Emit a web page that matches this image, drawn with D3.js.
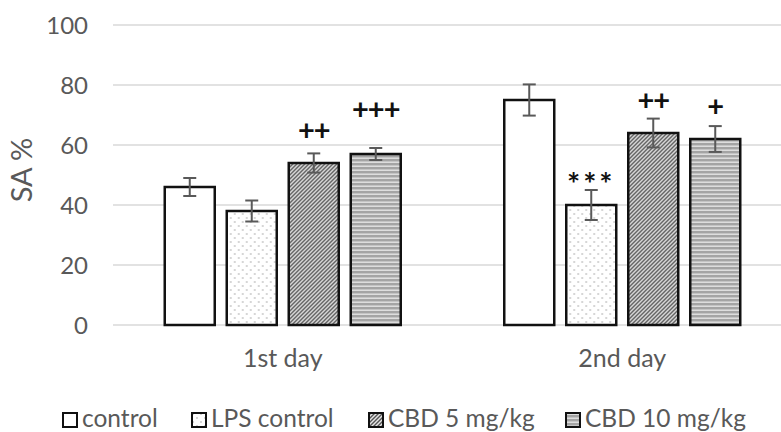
<!DOCTYPE html>
<html>
<head>
<meta charset="utf-8">
<script src="https://cdn.jsdelivr.net/npm/d3@7"></script>
<style>
  html, body { margin: 0; padding: 0; background: #fff; }
  svg { display: block; font-family: Lato, "Noto Sans", sans-serif; }
</style>
</head>
<body>
<svg id="chart" width="781" height="432"></svg>
<script>
// ---- data ----
const categories = ["1st day", "2nd day"];
const seriesNames = ["control", "LPS control", "CBD 5 mg/kg", "CBD 10 mg/kg"];
const controlValues = [46, 75];
const controlErrors = [3, 5.2];
const lpsValues = [38, 40];
const lpsErrors = [3.5, 5];
const cbd5Values = [54, 64];
const cbd5Errors = [3.2, 4.8];
const cbd10Values = [57, 62];
const cbd10Errors = [2, 4.3];
const yTicks = [0, 20, 40, 60, 80, 100];
// significance labels per category (one per series) and their height in data units
const sigLabels = [["", "", "++", "+++"], ["", "***", "++", "+"]];
const sigLevels = [[null, null, 65, 71.7], [null, 49.7, 75, 73]];

const seriesValues = [controlValues, lpsValues, cbd5Values, cbd10Values];
const seriesErrors = [controlErrors, lpsErrors, cbd5Errors, cbd10Errors];
const fills = ["#ffffff", "url(#dots)", "url(#diag)", "url(#hstripe)"];

const svg = d3.select("#chart");
const W = 781;
const textColor = "#595959";

// ---- patterns ----
const defs = svg.append("defs");
const pd = defs.append("pattern").attr("id", "dots").attr("patternUnits", "userSpaceOnUse")
  .attr("width", 8).attr("height", 8);
pd.append("rect").attr("width", 8).attr("height", 8).attr("fill", "#fff");
pd.append("circle").attr("cx", 2).attr("cy", 2).attr("r", 0.75).attr("fill", "#9a9a9a");
pd.append("circle").attr("cx", 6).attr("cy", 6).attr("r", 0.75).attr("fill", "#9a9a9a");

const pg = defs.append("pattern").attr("id", "diag").attr("patternUnits", "userSpaceOnUse")
  .attr("width", 4).attr("height", 4);
pg.append("rect").attr("width", 4).attr("height", 4).attr("fill", "#e6e6e6");
pg.append("path").attr("d", "M-1,1 l2,-2 M0,4 l4,-4 M3,5 l2,-2")
  .attr("stroke", "#555").attr("stroke-width", 1.4);

const ph = defs.append("pattern").attr("id", "hstripe").attr("patternUnits", "userSpaceOnUse")
  .attr("width", 4).attr("height", 4);
ph.append("rect").attr("width", 4).attr("height", 4).attr("fill", "#a4a4a4");
ph.append("rect").attr("y", 1.5).attr("width", 4).attr("height", 1.4).attr("fill", "#e4e4e4");

// ---- scales ----
const y = d3.scaleLinear().domain([0, 100]).range([325, 25]);
const x0 = d3.scaleBand().domain(categories).range([113, 792]).padding(0);
const groupInner = 236;
const x1 = d3.scaleBand().domain(seriesNames).range([0, groupInner])
  .paddingInner(12 / 62).paddingOuter(0);

// ---- gridlines ----
svg.append("g").selectAll("line").data(yTicks).join("line")
  .attr("x1", 113).attr("x2", W)
  .attr("y1", d => y(d)).attr("y2", d => y(d))
  .attr("stroke", "#d9d9d9").attr("stroke-width", 1.6);

// ---- y axis ----
const yAxis = d3.axisLeft(y).tickValues(yTicks).tickSize(0).tickPadding(0);
const gy = svg.append("g").attr("transform", "translate(88,0)").call(yAxis);
gy.select(".domain").remove();
gy.selectAll("text").attr("fill", textColor).attr("font-size", 24)
  .attr("font-family", "Lato, sans-serif").attr("dy", "0.35em");

svg.append("text")
  .attr("transform", "translate(32,170) rotate(-90)")
  .attr("text-anchor", "middle")
  .attr("fill", textColor).attr("font-size", 29)
  .text("SA %");

// ---- x axis labels ----
const xAxis = d3.axisBottom(x0).tickSize(0).tickPadding(0);
const gx = svg.append("g").attr("transform", "translate(0,325)").call(xAxis);
gx.select(".domain").remove();
gx.selectAll("text").attr("fill", textColor).attr("font-size", 25)
  .attr("font-family", "Lato, sans-serif").attr("dy", null).attr("y", 42);

// ---- bars ----
const groups = svg.append("g").selectAll("g").data(categories).join("g")
  .attr("transform", c => `translate(${x0(c) + x0.bandwidth() / 2 - groupInner / 2},0)`);

groups.each(function (c, ci) {
  const g = d3.select(this);
  const items = seriesNames.map((s, si) => ({
    s, si, v: seriesValues[si][ci], e: seriesErrors[si][ci],
    lab: sigLabels[ci][si], lev: sigLevels[ci][si]
  }));
  g.selectAll("rect.bar").data(items).join("rect").attr("class", "bar")
    .attr("x", d => x1(d.s)).attr("width", x1.bandwidth())
    .attr("y", d => y(d.v)).attr("height", d => y(0) - y(d.v))
    .attr("fill", d => fills[d.si]).attr("stroke", "#111").attr("stroke-width", 2.5);

  const eb = g.selectAll("g.err").data(items).join("g").attr("class", "err")
    .attr("stroke", "#595959").attr("stroke-width", 2);
  eb.append("line")
    .attr("x1", d => x1(d.s) + x1.bandwidth() / 2).attr("x2", d => x1(d.s) + x1.bandwidth() / 2)
    .attr("y1", d => y(d.v + d.e)).attr("y2", d => y(d.v - d.e));
  eb.append("line")
    .attr("x1", d => x1(d.s) + x1.bandwidth() / 2 - 6.5).attr("x2", d => x1(d.s) + x1.bandwidth() / 2 + 6.5)
    .attr("y1", d => y(d.v + d.e)).attr("y2", d => y(d.v + d.e));
  eb.append("line")
    .attr("x1", d => x1(d.s) + x1.bandwidth() / 2 - 6.5).attr("x2", d => x1(d.s) + x1.bandwidth() / 2 + 6.5)
    .attr("y1", d => y(d.v - d.e)).attr("y2", d => y(d.v - d.e));

  g.selectAll("text.sig").data(items.filter(d => d.lab)).join("text").attr("class", "sig")
    .attr("x", d => x1(d.s) + x1.bandwidth() / 2)
    .attr("y", d => y(d.lev))
    .attr("dy", d => d.lab.includes("*") ? "0.62em" : "0.33em")
    .attr("text-anchor", "middle")
    .attr("font-size", d => d.lab.includes("*") ? 31 : 29)
    .attr("font-weight", "bold")
    .attr("fill", "#111")
    .attr("letter-spacing", d => d.lab.includes("*") ? 3 : -1)
    .text(d => d.lab);
});

// ---- legend ----
const legendX = [62, 191, 368, 565];
const legend = svg.append("g").selectAll("g").data(seriesNames).join("g")
  .attr("transform", (d, i) => `translate(${legendX[i]},412)`);
legend.append("rect").attr("x", 1).attr("y", 1).attr("width", 14).attr("height", 14)
  .attr("fill", (d, i) => fills[i]).attr("stroke", "#111").attr("stroke-width", 2);
legend.append("text").attr("x", 20).attr("y", 15)
  .attr("fill", textColor).attr("font-size", 24.5)
  .text(d => d);
</script>
</body>
</html>
